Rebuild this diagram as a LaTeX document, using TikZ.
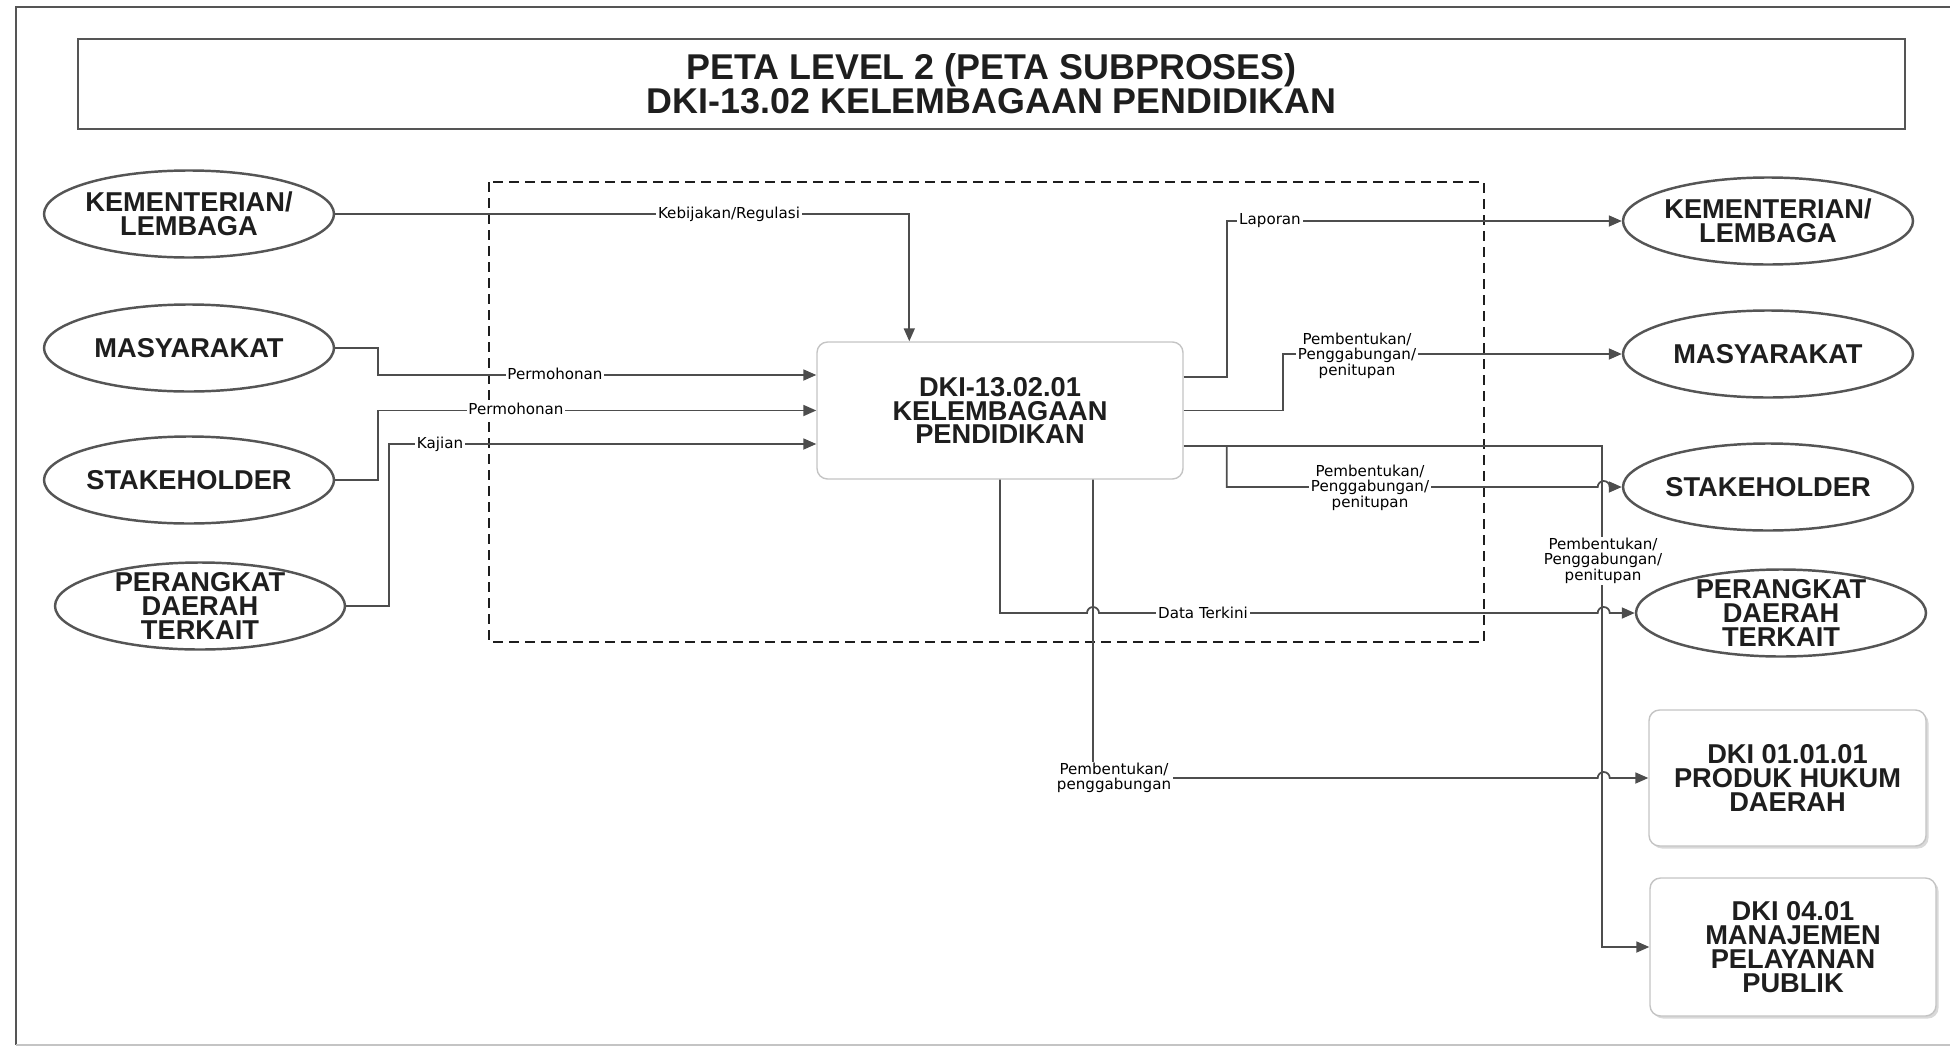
\documentclass[tikz,border=0pt]{standalone}
\usepackage{fontspec}
\setmainfont{Liberation Sans}
\newfontfamily\lblfont{DejaVu Sans}
\usetikzlibrary{arrows.meta,positioning,shapes.geometric,shadows}
\definecolor{LineGray}{HTML}{4D4D4D}
\definecolor{EdgeGray}{HTML}{555555}
\definecolor{BoxGray} {HTML}{C4C4C4}
\definecolor{InkBlack}{HTML}{1E1E1E}
\tikzset{
  entity/.style={ellipse,draw=EdgeGray,line width=1.4pt,fill=white,
                 minimum width=58mm,minimum height=17.4mm,inner sep=0pt},
  enttxt/.style={font=\fontsize{15.5}{13.6}\selectfont\bfseries\color{InkBlack},
                 align=center,inner sep=0pt},
  procbox/.style={rectangle,rounded corners=6pt,draw=BoxGray,line width=0.8pt,
                  fill=white,align=center,
                  font=\fontsize{15.5}{13.6}\selectfont\bfseries\color{InkBlack}},
  refbox/.style={procbox,drop shadow={shadow xshift=0.5mm,shadow yshift=-0.5mm,
                 opacity=0.3}},
  flowlbl/.style={font=\lblfont\fontsize{8.6}{8.2}\selectfont,fill=white,
                  inner sep=1pt,align=center},
  flow/.style={-{Triangle[length=2.6mm,width=2.2mm]},line width=1pt,color=LineGray},
}
\newcommand\hop{arc[start angle=180,end angle=0,radius=1.2mm]}

\begin{document}
\begin{tikzpicture}[x=0.2mm,y=-0.2mm]
  \useasboundingbox (0,0) rectangle (1950,1049);

  % frame and title
  \draw[line width=1.2pt,color=EdgeGray] (1950,7) -- (16,7) -- (16,1045);
  \draw[line width=0.6pt,color=BoxGray] (16,1045) -- (1950,1045);
  \node[rectangle,draw=EdgeGray,line width=1pt,minimum width=365.4mm,
        minimum height=18mm,align=center,
        font=\fontsize{20.4}{17.6}\selectfont\bfseries\color{InkBlack}]
    (title) at (991.5,84)
    {PETA LEVEL 2 (PETA SUBPROSES)\\DKI-13.02 KELEMBAGAAN PENDIDIKAN};

  % subprocess boundary
  \draw[dashed,dash pattern=on 2mm off 1.2mm,line width=0.8pt,color=InkBlack]
    (489,182) rectangle (1484,642);

  % sources
  \node[entity,label={[enttxt]center:{KEMENTERIAN/\\LEMBAGA}}] (kl1) at (189,214) {};
  \node[entity,label={[enttxt]center:MASYARAKAT}] (kl2) at (189,348) {};
  \node[entity,label={[enttxt]center:STAKEHOLDER}] (kl3) at (189,480) {};
  \node[entity,label={[enttxt]center:{PERANGKAT\\DAERAH\\TERKAIT}}] (kl4) at (200,606) {};

  % targets
  \node[entity,label={[enttxt]center:{KEMENTERIAN/\\LEMBAGA}}] (kr1) at (1768,221) {};
  \node[entity,label={[enttxt]center:MASYARAKAT}] (kr2) at (1768,354) {};
  \node[entity,label={[enttxt]center:STAKEHOLDER}] (kr3) at (1768,487) {};
  \node[entity,label={[enttxt]center:{PERANGKAT\\DAERAH\\TERKAIT}}] (kr4) at (1781,613) {};

  \node[procbox,minimum width=73.2mm,minimum height=27.4mm] (cent) at (1000,410.5)
    {DKI-13.02.01\\KELEMBAGAAN\\PENDIDIKAN};
  \node[refbox,minimum width=55.4mm,minimum height=27.2mm] (dk1) at (1787.5,778)
    {DKI 01.01.01\\PRODUK HUKUM\\DAERAH};
  \node[refbox,minimum width=57.2mm,minimum height=27.6mm] (dk2) at (1793,947)
    {DKI 04.01\\MANAJEMEN\\PELAYANAN\\PUBLIK};

  \coordinate (vg) at ([xshift=84mm]cent.east);
  \coordinate (vj) at ([xshift=18.6mm]cent.south);

  % inputs
  \draw[flow] (kl1.east) -| ([xshift=18.6mm]cent.north west);
  \draw[flow] (kl2.east) -- ++(43,0) |- ([yshift=7.1mm]cent.west);
  \draw[flow] (kl3.east) -- ++(43,0) |- (cent.west);
  \draw[flow] (kl4.east) -- ++(43,0) |- ([yshift=-6.7mm]cent.west);

  % outputs
  \draw[flow] ([yshift=6.7mm]cent.east) -- ++(43,0) |- (kr1.west);
  \draw[flow] (cent.east) -- ++(99,0) |- (kr2.west);
  \draw[flow] ([yshift=-7.1mm]cent.east) -| ([xshift=-9.4mm]dk2.west) -- (dk2.west);
  \draw[flow] ([yshift=-7.1mm,xshift=8.6mm]cent.east)
    |- ([xshift=-1.2mm]vg |- kr3.west) \hop -- (kr3.west);
  \draw[flow] (cent.south) |- ([xshift=-1.2mm]vj |- kr4.west) \hop
    -- ([xshift=-1.2mm]vg |- kr4.west) \hop -- (kr4.west);
  \draw[flow] (vj) |- ([xshift=-1.2mm]vg |- dk1.west) \hop -- (dk1.west);

  % labels
  \node[flowlbl] (lkeb) at (729,214) {Kebijakan/Regulasi};
  \node[flowlbl] (lper1) at (555,374) {Permohonan};
  \node[flowlbl] (lper2) at (516,409) {Permohonan};
  \node[flowlbl] (lkaj) at (440,444) {Kajian};
  \node[flowlbl] (llap) at (1270,221) {Laporan};
  \node[flowlbl] (lpb1) at (1357,356) {Pembentukan/\\Penggabungan/\\penitupan};
  \node[flowlbl] (lpb2) at (1370,488) {Pembentukan/\\Penggabungan/\\penitupan};
  \node[flowlbl] (lpb3) at (1603,561) {Pembentukan/\\Penggabungan/\\penitupan};
  \node[flowlbl] (ldat) at (1203,613) {Data Terkini};
  \node[flowlbl] (lpb4) at (1114,778) {Pembentukan/\\penggabungan};

\end{tikzpicture}
\end{document}
